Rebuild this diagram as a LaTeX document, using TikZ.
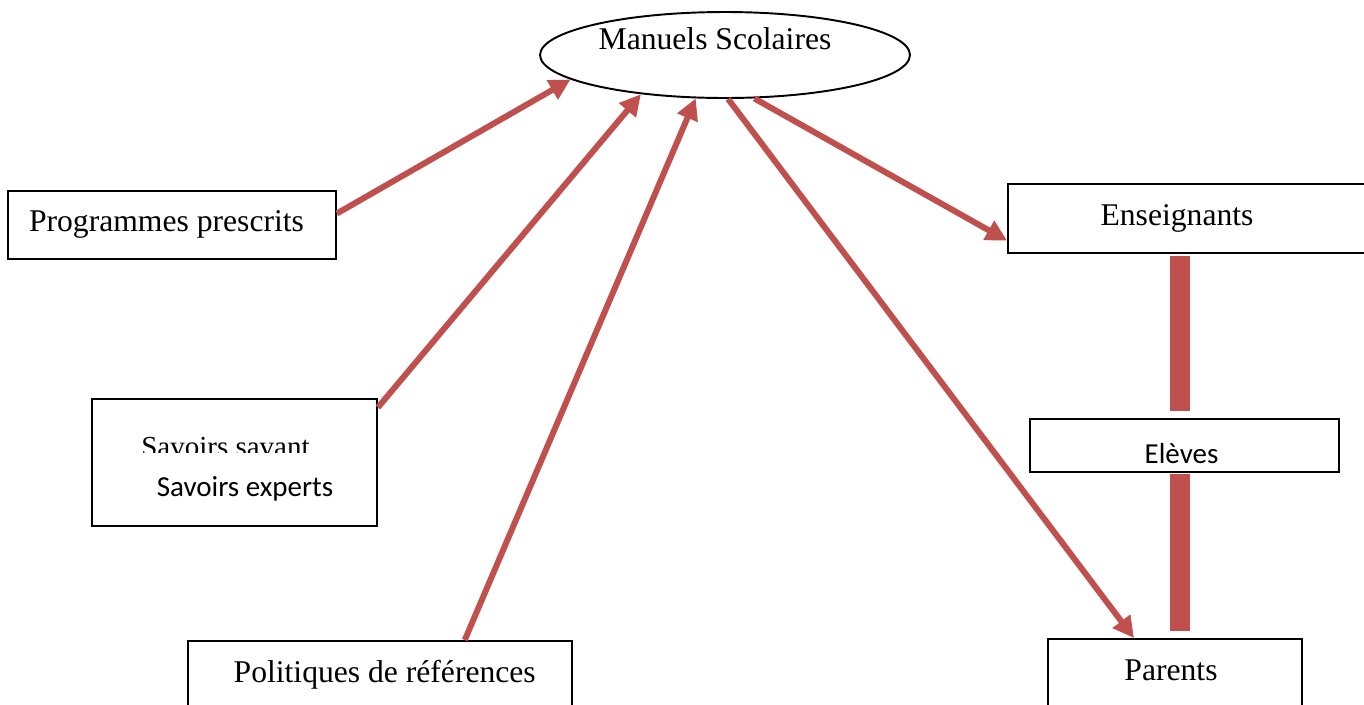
\documentclass[tikz,border=0pt]{standalone}
\usepackage{fontspec}
\setmainfont{Liberation Serif}
\setsansfont{Carlito}
\usetikzlibrary{arrows.meta,calc,positioning,shapes.geometric}
\definecolor{flow}{HTML}{C0504D}

\begin{document}
\begin{tikzpicture}[x=0.02cm,y=-0.02cm,
    box/.style={draw,line width=1.1pt,fill=white,inner sep=0pt,font=\fontsize{18}{21}\selectfont,text depth=0pt},
    link/.style={flow,line width=3.4pt,-{Triangle[length=12pt,width=12pt]}},
    bar/.style={flow,line width=11.3pt}]
    \useasboundingbox (0,0) rectangle (1364,704);

    % centre
    \node[box,ellipse,minimum width=7.4cm,minimum height=1.72cm,text height=0pt,text depth=0.24cm]
        (ms) at (725,55) {Manuels Scolaires\kern0.4cm};

    % sources
    \node[box,minimum width=6.56cm,minimum height=1.36cm,text height=0.26cm] (prog) at (172,225) {Programmes prescrits\kern0.22cm};
    \node[box,minimum width=5.7cm,minimum height=2.54cm] (sav) at (234.5,462.5) {};
    \node[box,minimum width=7.68cm,minimum height=1.4cm,text height=0.27cm] (pol) at (380,676) {\kern0.19cm Politiques de références};

    % two text lines of the savoirs box
    \begin{scope}
        \clip (100,420) rectangle (370,452.5);
        \node[anchor=base west,inner sep=0pt,font=\fontsize{16.5}{19}\selectfont] (savt) at (141,456) {Savoirs savant};
    \end{scope}
    \node[anchor=base west,inner sep=0pt,font=\sffamily\fontsize{16.5}{19}\selectfont] (savx) at (156.5,496.5) {Savoirs experts};

    % users
    \node[box,minimum width=7.16cm,minimum height=1.38cm,text height=0.26cm] (ens) at (1187,218.5) {Enseignants\kern0.4cm};
    \node[box,font=\sffamily\fontsize{16.5}{19}\selectfont,minimum width=6.18cm,minimum height=1.06cm,text height=0.7cm]
        (elv) at (1184.5,445.5) {Elèves\kern0.12cm};
    \node[box,minimum width=5.08cm,minimum height=1.44cm,text height=0.2cm] (par) at (1175,675) {Parents\kern0.16cm};

    % arrows
    \draw[link] (prog.4) -- (ms.189);
    \draw[link] (sav.21) -- (ms.205);
    \draw[link] (pol.23) -- (ms.236);
    \draw[link] (ms.274) -- (par.138);
    \draw[link] (ms.304) -- (ens.187);

    % thick bars
    \draw[bar] ($(ens.south)+(-7,2)$) -- ($(elv.north)+(-4.5,-7)$);
    \draw[bar] ($(elv.south)+(-4.5,1)$) -- ($(par.north)+(5,-7)$);
\end{tikzpicture}
\end{document}
